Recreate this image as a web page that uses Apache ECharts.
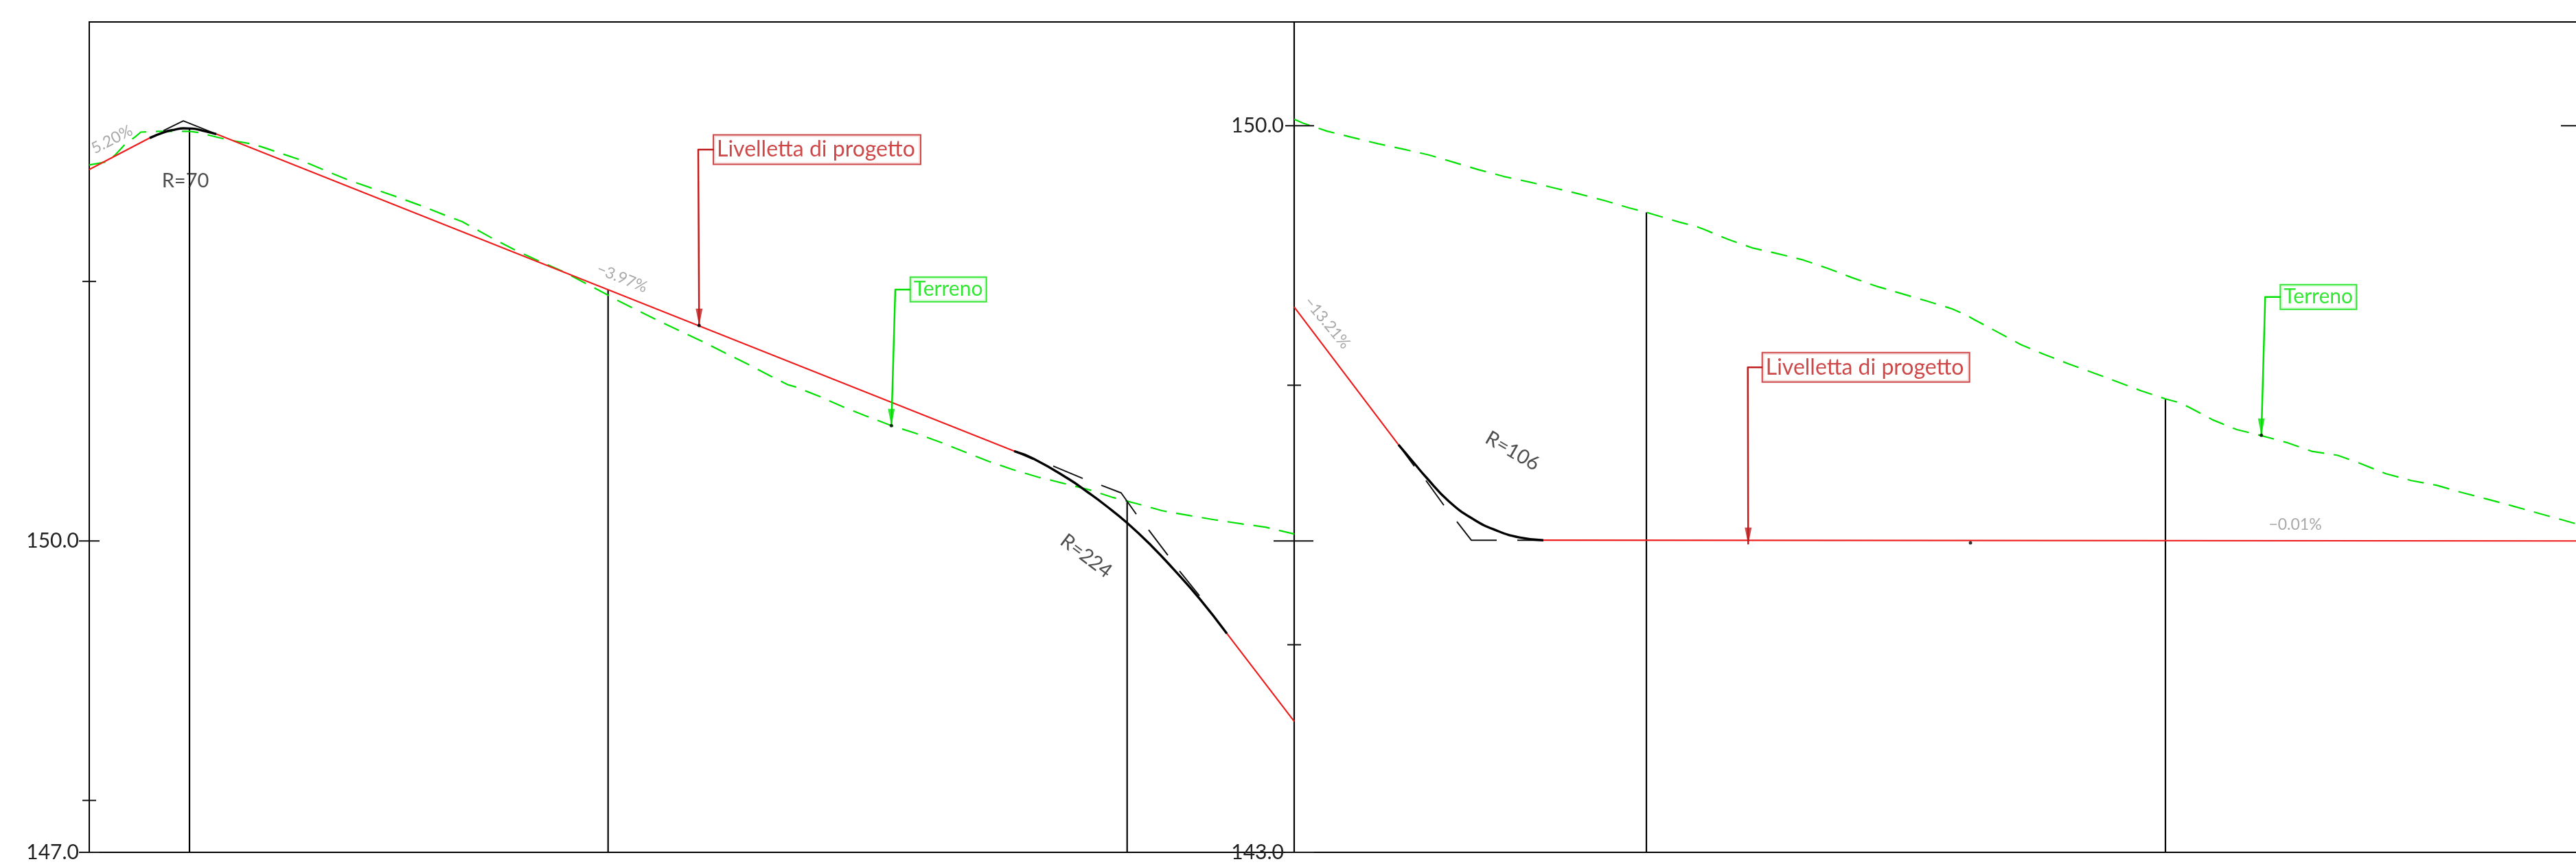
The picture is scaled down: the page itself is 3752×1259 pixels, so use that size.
<!DOCTYPE html>
<html><head><meta charset="utf-8">
<script src="https://cdn.jsdelivr.net/npm/echarts@6/dist/echarts.min.js"></script>
<style>html,body{margin:0;padding:0;background:#fff}#c{width:3752px;height:1259px}</style>
</head><body><div id="c"></div>
<script>
// x = distance along the profile, y = elevation (m)
const leftYTicksMajor=[147,150];
const leftYTicksMinor=[147.5,152.5];
const rightYTicksMajor=[143,150];
const rightYTicksLong=[146];
const rightYTicksMinor=[145,147.5];

const leftGround=[[0,153.622],[27,153.655],[38,153.721],[53,153.827],[67,153.893],[75,153.939],[103,153.946],[147,153.946],[160,153.933],[200,153.867],[235,153.827],[250,153.799],[306.7,153.673],[341.7,153.574],[376.7,153.479],[412.7,153.396],[448.3,153.314],[483.3,153.230],[518.3,153.138],[543.3,153.076],[553.3,153.039],[586.7,152.917],[620,152.803],[655,152.697],[689.3,152.598],[722.7,152.483],[756,152.367],[770,152.316],[823.3,152.140],[858.3,152.029],[891.7,151.926],[926,151.811],[960,151.701],[993.3,151.585],[1018.3,151.503],[1028.3,151.485],[1063.3,151.393],[1098.3,151.291],[1133.3,151.199],[1168.3,151.111],[1203.3,151.038],[1240,150.950],[1275,150.858],[1310,150.767],[1345,150.688],[1382,150.615],[1403,150.582],[1418,150.556],[1455,150.496],[1492,150.417],[1527,150.357],[1563,150.291],[1602,150.245],[1638,150.205],[1677,150.166],[1713,150.133],[1755,150.067]];
const rightGround=[[0,150.063],[13,150.025],[38,149.970],[48,149.948],[85,149.887],[122,149.827],[158,149.776],[195,149.721],[232,149.649],[268,149.578],[305,149.512],[342,149.459],[378,149.402],[415,149.343],[452,149.279],[488,149.208],[513,149.166],[525,149.142],[561,149.072],[587,149.027],[597,149.001],[632,148.906],[668,148.822],[704,148.768],[741,148.708],[777,148.626],[812,148.538],[848,148.454],[884,148.384],[921,148.312],[957,148.239],[978,148.179],[991,148.131],[1024,148.014],[1058,147.893],[1092,147.798],[1128,147.706],[1163,147.622],[1198,147.536],[1233,147.448],[1269,147.369],[1290,147.331],[1305,147.283],[1338,147.166],[1373,147.073],[1408,147.016],[1447,146.946],[1482,146.864],[1520,146.825],[1555,146.741],[1590,146.648],[1627,146.582],[1664,146.536],[1701,146.466],[1737,146.404],[1774,146.338],[1810,146.271],[1846,146.205],[1867,146.166]];

const leftGrade=[[[0,153.578],[88,153.882]],[[185,153.920],[1347,150.866]],[[1657,149.108],[1755,148.262]]];
const rightGrade=[[[0,148.254],[152,146.926]],[[363,146.007],[1867,146.0]]];

const leftCurves=[
 [[88,153.882],[110,153.940],[125,153.963],[137,153.975],[150,153.973],[165,153.953],[185,153.920]],
 [[1347,150.866],[1375,150.794],[1427,150.595],[1453,150.476],[1480,150.344],[1512,150.172],[1547,149.954],[1580,149.723],[1617,149.445],[1657,149.108]]];
const rightCurves=[[[152,146.926],[175,146.747],[192,146.615],[225,146.384],[262,146.205],[295,146.100],[328,146.034],[363,146.007]]];

const leftTangents=[
 [[108,153.953],[137,154.047],[185,153.920]],
 [[1347,150.866],[1375,150.787]],
 [[1404,150.721],[1447,150.602]],
 [[1474,150.536],[1503,150.463],[1525,150.258]],
 [[1543,150.106],[1571,149.862]],
 [[1588,149.710],[1617,149.472]]];
const rightTangents=[
 [[152,146.926],[175,146.72]],
 [[192,146.582],[218,146.344]],
 [[237,146.186],[258,146.007],[295,146.007]],
 [[325,146.007],[363,146.007]],
 [[1845,150],[1867,150]]];

const leftVerticals=[[146,153.975],[755.7,152.421],[1511.7,150.384]];
const rightVerticals=[[513,149.166],[1269,147.369]];

const leftNotes=[
 {x:33,y:153.867,text:'5.20%',rotate:27,kind:'grade'},
 {x:140,y:153.470,text:'R=70',rotate:0,kind:'radius'},
 {x:776,y:152.532,text:'\u22123.97%',rotate:-22,kind:'grade'},
 {x:1452,y:149.855,text:'R=224',rotate:-37,kind:'radius'}];
const rightNotes=[
 {x:48,y:148.102,text:'\u221213.21%',rotate:-50,kind:'grade'},
 {x:318,y:146.866,text:'R=106',rotate:-30,kind:'radius'},
 {x:1458,y:146.159,text:'\u22120.01%',rotate:0,kind:'grade'}];

const designName='Livelletta di progetto';
const groundName='Terreno';
const leftDesignCall={box:[910,153.771],leader:[[910,153.771],[887,153.771],[888.3,152.076]],dot:true};
const leftGroundCall={box:[1196.7,152.423],leader:[[1196.7,152.421],[1174,152.421],[1168.3,151.111]],dot:true};
const rightDesignCall={box:[682.7,147.673],leader:[[682.7,147.672],[660.7,147.672],[661.3,145.967]],dot:false};
const rightGroundCall={box:[1437.3,148.350],leader:[[1437.3,148.351],[1414.3,148.351],[1408.7,147.018]],dot:true};
const rightExtraDots=[[985,145.981]];

const FONT='Lato';
const RED='#ee1c1c',DARKRED='#c01c1c',GREEN='#00e000',INK='#111';

function flat(segs){const o=[];segs.forEach((s,i)=>{if(i)o.push([null,null]);o.push(...s);});return o;}
function line(g,data,color,width,z,dash,smooth){
 return {type:'line',xAxisIndex:g,yAxisIndex:g,data,showSymbol:false,symbol:'none',silent:true,z,
  lineStyle:{color,width,type:dash||'solid',cap:'butt',join:'round'},connectNulls:false,smooth:smooth||false};
}
function drops(g,tops,ymin){return line(g,flat(tops.map(t=>[[t[0],ymin],t])),'#000',2.2,2);}
function notes(g,list){
 return {type:'scatter',xAxisIndex:g,yAxisIndex:g,symbolSize:0,silent:true,z:6,
  data:list.map(n=>({value:[n.x,n.y],label:{show:true,position:'inside',formatter:n.text,rotate:n.rotate,
   fontFamily:FONT,fontWeight:400,
   fontSize:n.kind==='grade'?23:29,color:n.kind==='grade'?'#929292':'#222'}}))};
}
function callout(g,c,text,color,w,h,fs){
 const out=[line(g,c.leader,color,2.5,5),
 {type:'scatter',xAxisIndex:g,yAxisIndex:g,symbol:'triangle',symbolRotate:180,symbolSize:[10,25],symbolOffset:[0,-12],silent:true,z:7,
  itemStyle:{color},data:[c.leader[2]]},
 {type:'scatter',xAxisIndex:g,yAxisIndex:g,symbolSize:0,silent:true,z:8,data:[c.box],
  label:{show:true,position:'right',distance:0,formatter:text,color,fontFamily:FONT,fontWeight:400,fontSize:fs,
   width:w-8,height:h,lineHeight:h,padding:[0,4,0,4],align:'left',verticalAlign:'middle',overflow:'none',borderColor:color,borderWidth:2,backgroundColor:'#fff'}}];
 if(c.dot)out.push({type:'scatter',xAxisIndex:g,yAxisIndex:g,symbol:'circle',symbolSize:5,silent:true,z:8,itemStyle:{color:'#000'},data:[c.leader[2]]});
 return out;
}
function ticks(g,vals,lenL,lenR){
 return {type:'custom',xAxisIndex:g,yAxisIndex:g,silent:true,z:4,data:vals.map(v=>[0,v]),
  renderItem:(p,api)=>{const c=api.coord([api.value(0),api.value(1)]);
   return {type:'line',shape:{x1:c[0]-lenL,y1:c[1],x2:c[0]+lenR,y2:c[1]},style:{stroke:INK,lineWidth:2}};}};
}
function yAxis(g,min,max,labels,lineShow){
 return {type:'value',gridIndex:g,min,max,axisLine:{show:lineShow,onZero:false,lineStyle:{color:'#000',width:2.2}},axisTick:{show:false},splitLine:{show:false},
  axisLabel:{show:true,customValues:labels,formatter:v=>v.toFixed(1),margin:15,fontFamily:FONT,fontWeight:400,fontSize:30,color:'#222',showMinLabel:true,showMaxLabel:true}};
}
const edge=(g,max,pos)=>({type:'value',gridIndex:g,min:0,max,position:pos,axisLine:{show:true,onZero:false,lineStyle:{color:'#000',width:2}},axisTick:{show:false},axisLabel:{show:false},splitLine:{show:false}});
const DASH=[24,14];
const chart=echarts.init(document.getElementById('c'),null,{renderer:'canvas'});
chart.setOption({animation:false,backgroundColor:'#fff',
 grid:[{left:130,top:32,width:1755,height:1210,show:true,borderColor:'#000',borderWidth:2,backgroundColor:'transparent'},
       {left:1885,top:32,width:1867,height:1210,show:false}],
 xAxis:[{type:'value',gridIndex:0,min:0,max:1755,show:false},edge(1,1867,'bottom'),edge(1,1867,'top')],
 yAxis:[yAxis(0,147,155,leftYTicksMajor,false),yAxis(1,143,151,rightYTicksMajor,true)],
 series:[
  drops(0,leftVerticals,147),drops(1,rightVerticals,143),
  line(0,leftGround,GREEN,2.2,3,DASH),line(1,rightGround,GREEN,2.2,3,DASH),
  line(0,flat(leftGrade),RED,2.2,4),line(1,flat(rightGrade),RED,2.2,4),
  line(0,flat(leftTangents),INK,2,4),line(1,flat(rightTangents),INK,2,4),
  line(0,flat(leftCurves),'#000',3.4,5,null,0.5),line(1,flat(rightCurves),'#000',3.4,5,null,0.5),
  ticks(0,leftYTicksMajor,15,15),ticks(0,leftYTicksMinor,10,10),
  ticks(1,rightYTicksMajor,13,29),ticks(1,rightYTicksLong,30,28),ticks(1,rightYTicksMinor,10,10),
  notes(0,leftNotes),notes(1,rightNotes),
  ...callout(0,leftDesignCall,designName,DARKRED,300,41,32),
  ...callout(0,leftGroundCall,groundName,GREEN,109,34,30),
  ...callout(1,rightDesignCall,designName,DARKRED,300,41,32),
  ...callout(1,rightGroundCall,groundName,GREEN,109,34,30),
  {type:'scatter',xAxisIndex:1,yAxisIndex:1,symbolSize:5,silent:true,z:8,itemStyle:{color:'#000'},data:rightExtraDots}
 ]});
</script></body></html>
